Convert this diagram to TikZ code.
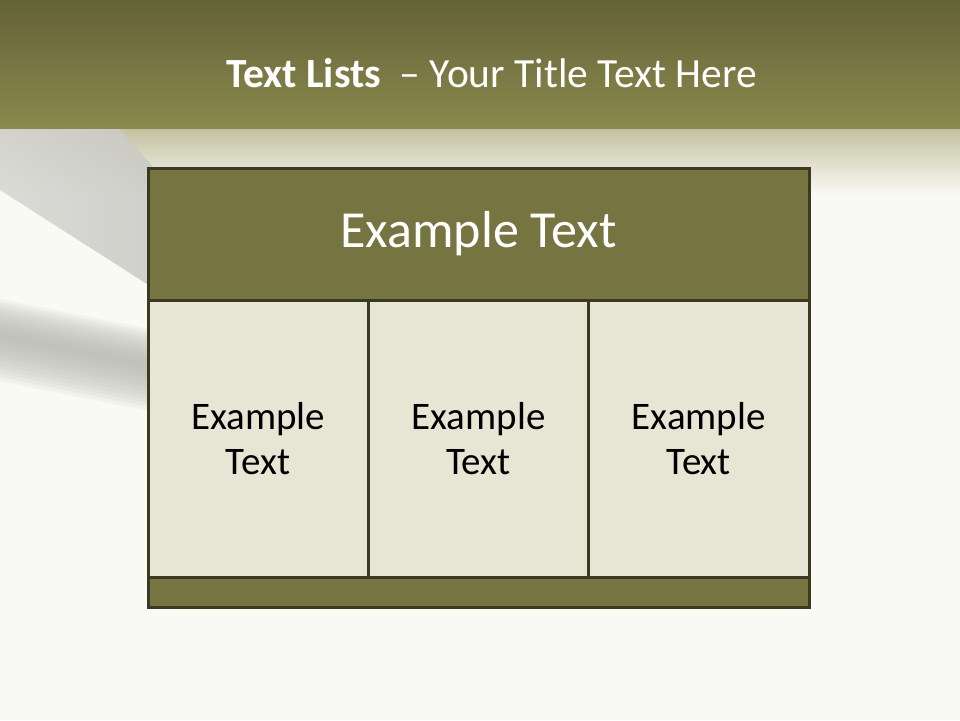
\documentclass[tikz,border=0pt]{standalone}
\usepackage{fontspec}
\setmainfont{Carlito}
\usetikzlibrary{positioning}

\definecolor{pagebg}{HTML}{FAFAF5}
\definecolor{bandtop}{HTML}{646238}
\definecolor{bandbot}{HTML}{8B894D}
\definecolor{fadetop}{HTML}{C3C1A0}
\definecolor{olivefill}{HTML}{767440}
\definecolor{cellfill}{HTML}{E7E6D4}
\definecolor{edge}{HTML}{3B3920}
\definecolor{swoosh}{HTML}{C6C7C2}
\definecolor{streak}{HTML}{B6B7B1}

\begin{document}
\begin{tikzpicture}[
    x=1pt, y=-1pt,
    block/.style={draw=edge, line width=3pt, inner sep=0pt, outer sep=0pt, align=center},
    headbox/.style={block, fill=olivefill, text=white, font=\fontsize{52}{60}\selectfont,
        minimum width=661pt, minimum height=132pt},
    cellbox/.style={block, fill=cellfill, text=black, font=\fontsize{39}{45}\selectfont,
        minimum width=220.33pt, minimum height=277pt},
    footbox/.style={block, fill=olivefill, minimum width=661pt, minimum height=30pt}
]
    % page and title band
    \clip (0,0) rectangle (960,720);
    \fill[pagebg] (0,0) rectangle (960,720);
    \shade[top color=fadetop, bottom color=pagebg] (0,128) rectangle (960,195);
    \shade[left color=swoosh!70!pagebg, right color=swoosh, opacity=0.85]
        (0,128) -- (118,128) .. controls (135,145) and (150,165) .. (175,190)
        -- (175,302) -- (0,190) -- cycle;
    % soft grey streak under the table
    \foreach \k in {1,...,12} {
        \pgfmathsetmacro\up{36*\k/12}
        \pgfmathsetmacro\dn{46*\k/12}
        \fill[streak, opacity=0.12] (0,335-\up) -- (180,371-\up) -- (180,371+\dn) -- (0,335+\dn) -- cycle;
    }
    \shade[top color=bandtop, bottom color=bandbot] (0,0) rectangle (960,128);

    \node[text=white, font=\fontsize{41.5}{48}\selectfont, anchor=base] (title) at (491.5,87)
        {\textbf{Text Lists}\ \ – Your Title Text Here};

    % table
    \node[headbox, anchor=north west] (header) at (148,168) {Example Text};
    \node[cellbox, below right=0pt of header.south west] (cellA) {Example\\Text};
    \node[cellbox, right=0pt of cellA] (cellB) {Example\\Text};
    \node[cellbox, right=0pt of cellB] (cellC) {Example\\Text};
    \node[footbox, below right=0pt of cellA.south west] (footer) {};
\end{tikzpicture}
\end{document}
